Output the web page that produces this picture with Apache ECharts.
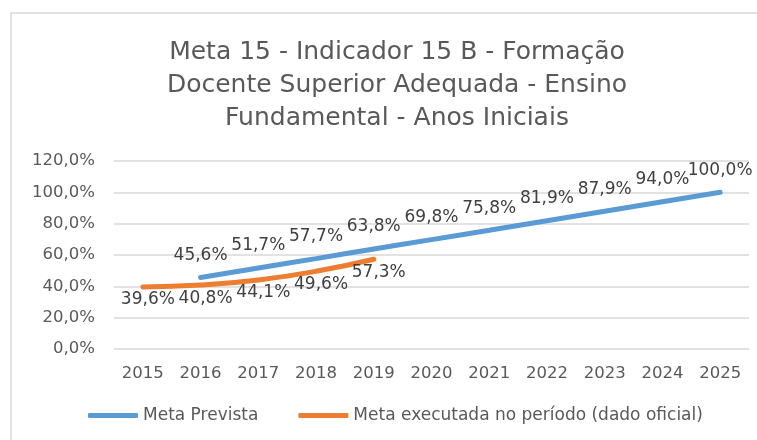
<!DOCTYPE html>
<html>
<head>
<meta charset="utf-8">
<script src="https://cdn.jsdelivr.net/npm/echarts@6/dist/echarts.min.js"></script>
<style>
  html, body { margin: 0; padding: 0; background: #fff; }
  #chart { width: 757px; height: 440px; }
</style>
</head>
<body>
<div id="chart"></div>
<script>
// dados do gráfico
const anos = ['2015', '2016', '2017', '2018', '2019', '2020', '2021', '2022', '2023', '2024', '2025'];
const metaPrevista = [null, 45.6, 51.7, 57.7, 63.8, 69.8, 75.8, 81.9, 87.9, 94.0, 100.0];
const metaExecutada = [39.6, 40.8, 44.1, 49.6, 57.3, null, null, null, null, null, null];
const yTicks = [0, 20, 40, 60, 80, 100, 120];

const pct = (v) => v.toFixed(1).replace('.', ',') + '%';
const fonte = 'DejaVu Sans';

const chart = echarts.init(document.getElementById('chart'));

const option = {
    backgroundColor: '#fff',
    animation: false,
    graphic: [{
        type: 'rect',
        shape: { x: 11, y: 13, width: 800, height: 500 },
        style: { fill: 'none', stroke: '#d9d9d9', lineWidth: 1.5 },
        silent: true
    }],
    title: {
        text: 'Meta 15 - Indicador 15 B - Formação\nDocente Superior Adequada - Ensino\nFundamental - Anos Iniciais',
        left: 392,
        top: 31,
        textAlign: 'center',
        textStyle: {
            fontFamily: fonte,
            fontSize: 25,
            fontWeight: 'normal',
            color: '#595959',
            lineHeight: 33
        }
    },
    legend: {
        left: 83,
        top: 402,
        itemWidth: 50,
        itemHeight: 5,
        itemGap: 40,
        icon: 'roundRect',
        textStyle: { fontFamily: fonte, fontSize: 17, color: '#595959' },
        data: ['Meta Prevista', 'Meta executada no período (dado oficial)']
    },
    grid: { left: 114, right: 8, top: 161, bottom: 91 },
    xAxis: {
        type: 'category',
        data: anos,
        boundaryGap: true,
        axisLine: { show: false },
        axisTick: { show: false },
        axisLabel: { fontFamily: fonte, fontSize: 16.5, color: '#595959', margin: 16 }
    },
    yAxis: {
        type: 'value',
        min: yTicks[0],
        max: yTicks[yTicks.length - 1],
        interval: 20,
        axisLine: { show: false },
        axisTick: { show: false },
        splitLine: { lineStyle: { color: '#d9d9d9', width: 1.5 } },
        axisLabel: { fontFamily: fonte, fontSize: 16.5, color: '#595959', margin: 19, formatter: pct }
    },
    series: [
        {
            name: 'Meta Prevista',
            type: 'line',
            data: metaPrevista,
            smooth: true,
            symbol: 'circle',
            symbolSize: 1,
            lineStyle: { color: '#5b9bd5', width: 5, cap: 'round' },
            itemStyle: { color: '#5b9bd5' },
            label: {
                show: true,
                position: 'top',
                distance: 13,
                fontFamily: fonte,
                fontSize: 17,
                color: '#404040',
                formatter: (p) => pct(p.value)
            }
        },
        {
            name: 'Meta executada no período (dado oficial)',
            type: 'line',
            data: metaExecutada,
            smooth: true,
            symbol: 'circle',
            symbolSize: 1,
            lineStyle: { color: '#ed7d31', width: 5, cap: 'round' },
            itemStyle: { color: '#ed7d31' },
            label: {
                show: true,
                position: 'bottom',
                distance: 4,
                offset: [5, 0],
                fontFamily: fonte,
                fontSize: 17,
                color: '#404040',
                formatter: (p) => pct(p.value)
            }
        }
    ]
};

chart.setOption(option);
</script>
</body>
</html>
